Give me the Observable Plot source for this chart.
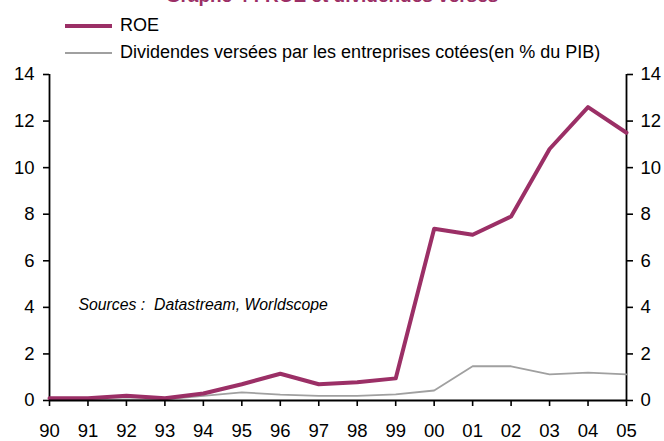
<!DOCTYPE html>
<html><head><meta charset="utf-8">
<script src="https://cdn.jsdelivr.net/npm/d3@7"></script>
<script src="https://cdn.jsdelivr.net/npm/@observablehq/plot@0.6"></script>
<style>
body{margin:0;background:#fff;font-family:"Liberation Sans",Arial,sans-serif;}
#wrap{position:relative;width:664px;height:441px;overflow:hidden;}
#title{position:absolute;left:0;width:664px;top:-15px;text-align:center;font-weight:bold;font-size:19px;color:#9b2f66;}
.leg{position:absolute;left:65px;font-size:18px;color:#000;display:flex;align-items:center;white-space:nowrap;}
.leg span.sw{display:inline-block;width:47px;margin-right:8px;}
#chart{position:absolute;left:0;top:62px;}
</style></head>
<body><div id="wrap">
<div id="title">Graphe 4 : ROE et dividendes versés</div>
<div class="leg" style="top:15px"><span class="sw" style="border-top:4px solid #9b2f66"></span>ROE</div>
<div class="leg" style="top:42px"><span class="sw" style="border-top:2px solid #a0a0a0"></span>Dividendes versées par les entreprises cotées(en % du PIB)</div>
<div id="chart"></div>
</div>
<script>
const years = [1990,1991,1992,1993,1994,1995,1996,1997,1998,1999,2000,2001,2002,2003,2004,2005];
const yearLabels = ["90","91","92","93","94","95","96","97","98","99","00","01","02","03","04","05"];
const roe = [0.1,0.1,0.2,0.1,0.3,0.7,1.15,0.7,0.78,0.95,7.38,7.12,7.9,10.8,12.6,11.5];
const dividends = [0.05,0.05,0.05,0.05,0.2,0.35,0.25,0.2,0.2,0.26,0.43,1.47,1.47,1.12,1.2,1.12];
const yTicks = [0,2,4,6,8,10,12,14];
const seriesNames = ["ROE","Dividendes versées par les entreprises cotées(en % du PIB)"];

const divData = years.map((y,i)=>({year:y, value:dividends[i], series:seriesNames[1]}));
const roeData = years.map((y,i)=>({year:y, value:roe[i], series:seriesNames[0]}));
const fmt = d => yearLabels[years.indexOf(d)];

const chart = Plot.plot({
  width:664, height:379,
  marginLeft:49, marginRight:38, marginTop:12, marginBottom:41,
  style:{fontFamily:"'Liberation Sans',Arial,sans-serif", fontSize:"18.5px", color:"#000", background:"#fff"},
  x:{domain:[1990,2005], ticks:years, tickFormat:fmt, label:null},
  y:{domain:[0,14], ticks:yTicks, label:null},
  marks:[
    Plot.axisX({ticks:years, tickFormat:fmt, label:null, tickSize:6, tickPadding:17, stroke:"#000", strokeOpacity:1, strokeWidth:1.6}),
    Plot.axisY({anchor:"left", ticks:yTicks, label:null, tickSize:6, tickPadding:9, stroke:"#000", strokeOpacity:1, strokeWidth:1.6}),
    Plot.axisY({anchor:"right", ticks:yTicks, label:null, tickSize:6, tickPadding:8, stroke:"#000", strokeOpacity:1, strokeWidth:1.6}),
    Plot.ruleX([1990,2005], {stroke:"#000", strokeWidth:1.8}),
    Plot.line(divData, {x:"year", y:"value", stroke:"#a0a0a0", strokeWidth:1.8}),
    Plot.line(roeData, {x:"year", y:"value", stroke:"#9b2f66", strokeWidth:4}),
    Plot.ruleY([0], {stroke:"#000", strokeWidth:1.8}),
    Plot.text(["Sources :  Datastream, Worldscope"], {frameAnchor:"top-left", dx:29, dy:224, fontStyle:"italic", fontSize:15.8, textAnchor:"start", fill:"#000"})
  ]
});
document.getElementById("chart").appendChild(chart);
</script>
</body></html>
